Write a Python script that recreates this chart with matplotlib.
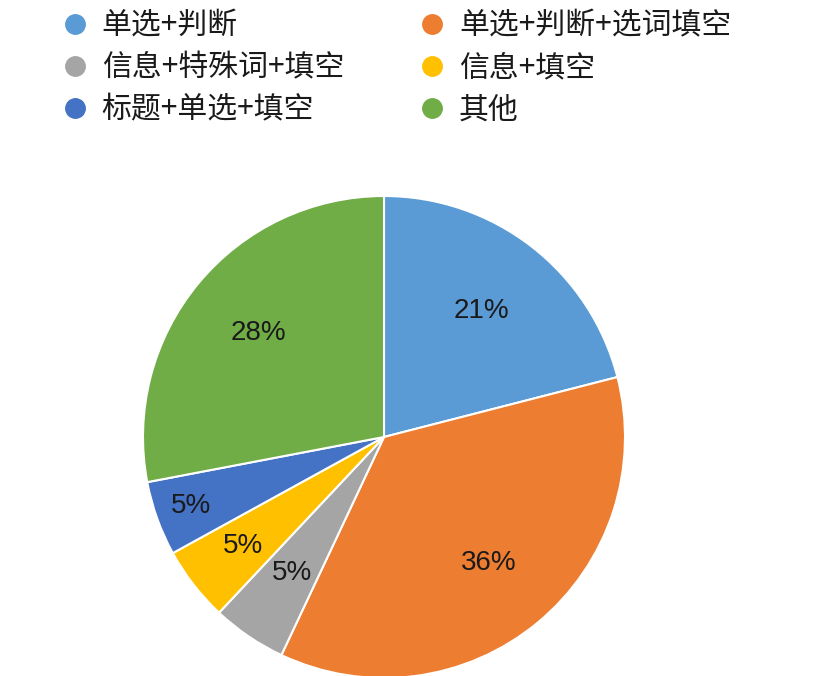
import numpy as np
import matplotlib.pyplot as plt
from matplotlib.lines import Line2D

plt.rcParams['font.family'] = ['Noto Sans CJK SC', 'DejaVu Sans']

# data
categories = ['单选+判断', '单选+判断+选词填空', '信息+特殊词+填空',
              '信息+填空', '标题+单选+填空', '其他']
shares = [21, 36, 5, 5, 5, 28]
colors = ['#5B9BD5', '#ED7D31', '#A5A5A5', '#FFC000', '#4472C4', '#70AD47']
label_dist = [0.66, 0.68, 0.68, 0.74, 0.85, 0.675]

fig = plt.figure(figsize=(8.14, 6.76), dpi=100)

# pie axes: centre ~(384, 437) px, radius ~241 px
ax = fig.add_axes([143 / 814, -2 / 676, 482 / 814, 482 / 676])
wedges, texts, autotexts = ax.pie(
    shares, colors=colors, startangle=90, counterclock=False,
    autopct='%d%%', pctdistance=0.67,
    wedgeprops=dict(edgecolor='white', linewidth=1.5),
    textprops=dict(fontsize=20, color='#1a1a1a',
                   family=['Liberation Sans', 'DejaVu Sans']))
ax.set_xlim(-1, 1)
ax.set_ylim(-1, 1)
ax.set_aspect('equal')

# move the labels to where they sit in the original
for w, t, d in zip(wedges, autotexts, label_dist):
    ang = np.deg2rad((w.theta1 + w.theta2) / 2)
    t.set_position((d * np.cos(ang), d * np.sin(ang)))

# legend, two columns read row by row -> reorder for column-major fill
order = [0, 2, 4, 1, 3, 5]
handles = [Line2D([], [], marker='o', linestyle='', markersize=14,
                  markerfacecolor=colors[i], markeredgecolor=colors[i])
           for i in order]
labels = [categories[i] for i in order]
fig.legend(handles, labels, ncol=2, loc='upper left',
           bbox_to_anchor=(33 / 814, 1.0 + 16 / 676), frameon=False,
           fontsize=21.5, handlelength=1.0, handletextpad=0.4,
           labelspacing=0.36, columnspacing=2.45, labelcolor='#1a1a1a')

fig.savefig('out.png', dpi=100)
